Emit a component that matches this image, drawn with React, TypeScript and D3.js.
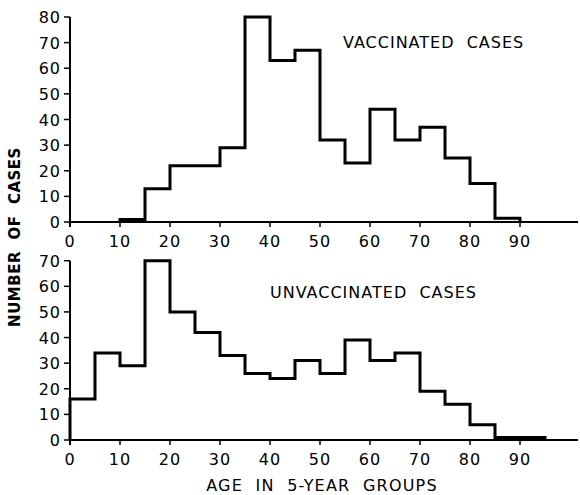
import React from "react";
import * as d3 from "d3";

// Age-group start (years) for each 5-year bin
const vaccinatedStarts = [10, 15, 20, 25, 30, 35, 40, 45, 50, 55, 60, 65, 70, 75, 80, 85];
const vaccinatedCounts = [1, 13, 22, 22, 29, 80, 63, 67, 32, 23, 44, 32, 37, 25, 15, 1.5];

const unvaccinatedStarts = [0, 5, 10, 15, 20, 25, 30, 35, 40, 45, 50, 55, 60, 65, 70, 75, 80, 85, 90];
const unvaccinatedCounts = [16, 34, 29, 70, 50, 42, 33, 26, 24, 31, 26, 39, 31, 34, 19, 14, 6, 1, 1];

const xTicks = [0, 10, 20, 30, 40, 50, 60, 70, 80, 90];
const topYTicks = [0, 10, 20, 30, 40, 50, 60, 70, 80];
const bottomYTicks = [0, 10, 20, 30, 40, 50, 60, 70];

const BIN = 5;
const FONT = "'DejaVu Sans', 'Liberation Sans', sans-serif";

function stepPath(starts: number[], counts: number[], x: d3.ScaleLinear<number, number>, y: d3.ScaleLinear<number, number>) {
  const pts: [number, number][] = [];
  pts.push([x(starts[0]), y(0)]);
  starts.forEach((s, i) => {
    pts.push([x(s), y(counts[i])]);
    pts.push([x(s + BIN), y(counts[i])]);
  });
  pts.push([x(starts[starts.length - 1] + BIN), y(0)]);
  return d3.line()(pts) as string;
}

function Panel({ starts, counts, y, yTicks, title, titleX, titleY }: any) {
  const x = d3.scaleLinear().domain([0, 90]).range([70, 520]);
  const y0 = y(0);
  return (
    <g>
      {/* x axis line */}
      <line x1={x(0)} x2={578} y1={y0} y2={y0} stroke="#000" strokeWidth={2} />
      {/* y axis line */}
      <line x1={x(0)} x2={x(0)} y1={y(yTicks[yTicks.length - 1])} y2={y0 + 5} stroke="#000" strokeWidth={2} />
      {xTicks.map((t) => (
        <g key={"x" + t}>
          <line x1={x(t)} x2={x(t)} y1={y0} y2={y0 + 5} stroke="#000" strokeWidth={1.5} />
          <text x={x(t)} y={y0 + 25} textAnchor="middle" fontSize={16} letterSpacing={1} fontFamily={FONT}>{t}</text>
        </g>
      ))}
      {yTicks.map((t: number) => (
        <g key={"y" + t}>
          <line x1={x(0) - 6} x2={x(0)} y1={y(t)} y2={y(t)} stroke="#000" strokeWidth={1.5} />
          <text x={x(0) - 9} y={y(t) + 6} textAnchor="end" fontSize={16} letterSpacing={1} fontFamily={FONT}>{t}</text>
        </g>
      ))}
      <path d={stepPath(starts, counts, x, y)} fill="none" stroke="#000" strokeWidth={3} strokeLinejoin="miter" />
      <text x={titleX} y={titleY} fontSize={16} letterSpacing={1} fontFamily={FONT} style={{ whiteSpace: "pre" }}>{title}</text>
    </g>
  );
}

export default function App() {
  const yTop = d3.scaleLinear().domain([0, 80]).range([222, 17]);
  const yBottom = d3.scaleLinear().domain([0, 70]).range([440, 260.7]);
  return (
    <svg width={580} height={495} style={{ position: "absolute", left: 0, top: 0, background: "#fff" }}>
      <Panel starts={vaccinatedStarts} counts={vaccinatedCounts} y={yTop} yTicks={topYTicks}
        title={"VACCINATED  CASES"} titleX={343} titleY={48} />
      <Panel starts={unvaccinatedStarts} counts={unvaccinatedCounts} y={yBottom} yTicks={bottomYTicks}
        title={"UNVACCINATED  CASES"} titleX={270} titleY={298} />
      <text transform="translate(20,237) rotate(-90)" textAnchor="middle" fontSize={15} fontWeight="bold"
        fontFamily={FONT} letterSpacing={0.5} style={{ whiteSpace: "pre" }}>{"NUMBER  OF  CASES"}</text>
      <text x={322} y={491} textAnchor="middle" fontSize={16} fontFamily={FONT} letterSpacing={1.2}
        style={{ whiteSpace: "pre" }}>{"AGE  IN  5-YEAR  GROUPS"}</text>
    </svg>
  );
}
